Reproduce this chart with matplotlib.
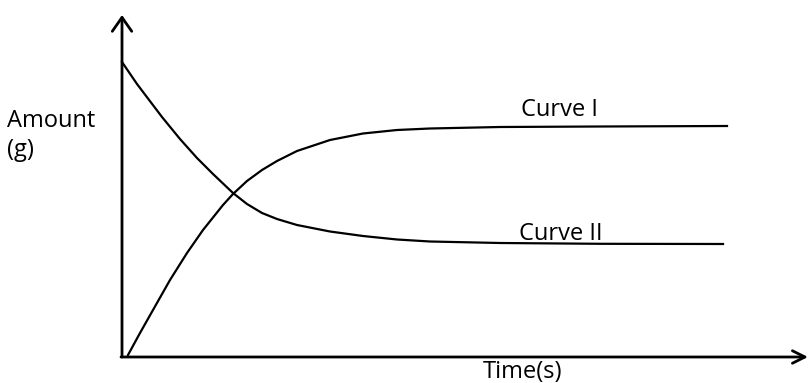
import matplotlib.pyplot as plt

# Sketch of two quantities versus time: product rising (Curve I), reactant falling (Curve II)
time_I = [0.6, 1.8, 3.1, 4.8, 6.5, 8.1, 10.1, 11.1, 12.5, 14.0, 15.5, 17.5,
          20.8, 24.1, 27.5, 30.8, 37.8, 47.8, 60.5]
amount_I = [0.1, 2.3, 4.6, 7.6, 10.3, 12.6, 15.1, 16.2, 17.5, 18.6, 19.5, 20.5,
            21.6, 22.25, 22.6, 22.75, 22.9, 22.95, 23.0]

time_II = [0.0, 1.5, 4.0, 5.8, 7.5, 9.1, 11.1, 12.5, 14.0, 15.5, 17.5,
           20.8, 24.1, 27.5, 30.8, 37.8, 47.8, 60.1]
amount_II = [29.4, 27.2, 23.9, 21.7, 19.8, 18.2, 16.3, 15.2, 14.3, 13.7, 13.1,
             12.45, 12.0, 11.65, 11.45, 11.3, 11.22, 11.2]

curve_labels = ["Curve I", "Curve II"]
x_label = "Time(s)"
y_label = ["Amount", "(g)"]

plt.rcParams['font.family'] = ['Open Sans', 'DejaVu Sans']

fig = plt.figure(figsize=(8.12, 3.83), dpi=100)
ax = fig.add_axes([0, 0, 1, 1])
ax.set_xlim(-12.2, 69.0)
ax.set_ylim(-2.7, 35.6)
ax.axis('off')

# axes drawn as arrows
ax.annotate("", xy=(0, 34.1), xytext=(0, -0.1),
            arrowprops=dict(arrowstyle="->,head_length=1.0,head_width=0.7",
                            lw=2, color="black", shrinkA=0, shrinkB=0))
ax.annotate("", xy=(68.6, -0.1), xytext=(-0.1, -0.1),
            arrowprops=dict(arrowstyle="->,head_length=0.9,head_width=0.45",
                            lw=2, color="black", shrinkA=0, shrinkB=0))

ax.plot(time_I, amount_I, color="black", lw=1.6, solid_joinstyle="round")
ax.plot(time_II, amount_II, color="black", lw=1.6, solid_joinstyle="round")

fs = 17
ax.text(43.8, 24.0, curve_labels[0], ha="center", va="baseline", fontsize=fs)
ax.text(43.9, 11.6, curve_labels[1], ha="center", va="baseline", fontsize=fs)
ax.text(40.1, -2.2, x_label, ha="center", va="baseline", fontsize=fs)
ax.text(-11.5, 22.9, y_label[0], ha="left", va="baseline", fontsize=fs)
ax.text(-11.5, 20.0, y_label[1], ha="left", va="baseline", fontsize=fs)

fig.savefig("out.png", dpi=100)
